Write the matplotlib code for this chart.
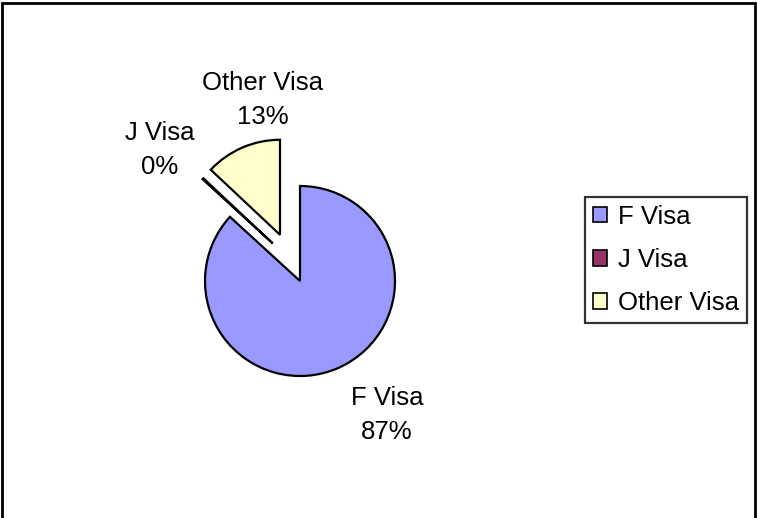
import numpy as np
import matplotlib
matplotlib.use('Agg')
import matplotlib.pyplot as plt
from matplotlib.patches import Rectangle

plt.rcParams['font.family'] = ['Liberation Sans', 'DejaVu Sans']

# data
labels = ['F Visa', 'J Visa', 'Other Visa']
shares = [86.8, 0.2, 13.0]
colors = ['#9999FF', '#993366', '#FFFFCC']

# layout (pixels)
W, H = 757, 518
CX, CY, R = 300, 281, 95
explode = [0.0, 0.45, 0.53]
label_px = [(387, 415), (160, 150), (263, 100)]
FS = 18.5


def px2d(x, y):
	return (x - CX) / R, (CY - y) / R


fig = plt.figure(figsize=(W / 100.0, H / 100.0), dpi=100)
ax = fig.add_axes([0, 0, 1, 1])

wedges, _ = ax.pie(shares, colors=colors, explode=explode, startangle=90,
				   counterclock=False, radius=1.0,
				   wedgeprops=dict(edgecolor='black', linewidth=1.6))

# excel nudges the zero slice a bit off its own radius
jw = wedges[1]
ang = np.deg2rad(126)
jw.set_center((0.49 * np.cos(ang), 0.49 * np.sin(ang)))

ax.set_aspect('auto')
ax.set_xlim(-CX / R, (W - CX) / R)
ax.set_ylim(-(H - CY) / R, CY / R)
ax.axis('off')

for lab, val, (px, py) in zip(labels, shares, label_px):
	x, y = px2d(px, py)
	ax.text(x, y, "%s\n%.0f%%" % (lab, val), ha='center', va='center',
			fontsize=FS, linespacing=1.5)

leg = fig.legend(wedges, labels, loc='upper left',
				 bbox_to_anchor=(585.0 / W, 1 - 197.0 / H), borderaxespad=0,
				 fontsize=FS, frameon=True, fancybox=False, shadow=False,
				 handlelength=0.55, handleheight=0.55, handletextpad=0.45,
				 labelspacing=0.75, borderpad=0.3)
leg.get_frame().set_edgecolor('black')
leg.get_frame().set_linewidth(1.6)
for h in leg.legend_handles:
	h.set_linewidth(1.2)

# outer chart border (bottom edge is cut off in the original)
fig.add_artist(Rectangle((2.0 / W, -0.02), 753.0 / W, 1.02 - 2.5 / H,
						 transform=fig.transFigure, fill=False,
						 edgecolor='black', linewidth=2.0))

fig.savefig('out.png', dpi=100)
